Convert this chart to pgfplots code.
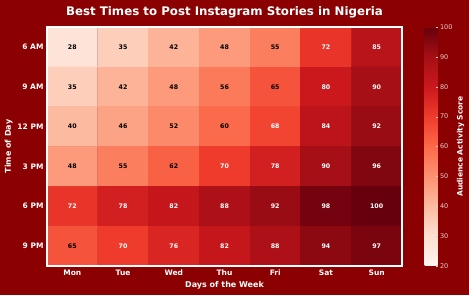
\documentclass[border=0pt]{standalone}
\usepackage{pgfplots}
\usepackage{pgfplotstable}
\pgfplotsset{compat=1.18}
\usepackage{fontspec}
\setmainfont{DejaVu Sans}
\definecolor{bg}{RGB}{139,0,0}
\definecolor{cbtick}{RGB}{235,205,205}

\pgfplotstableread{
x y z
0 0 28
1 0 35
2 0 42
3 0 48
4 0 55
5 0 72
6 0 85
0 1 35
1 1 42
2 1 48
3 1 56
4 1 65
5 1 80
6 1 90
0 2 40
1 2 46
2 2 52
3 2 60
4 2 68
5 2 84
6 2 92
0 3 48
1 3 55
2 3 62
3 3 70
4 3 78
5 3 90
6 3 96
0 4 72
1 4 78
2 4 82
3 4 88
4 4 92
5 4 98
6 4 100
0 5 65
1 5 70
2 5 76
3 5 82
4 5 88
5 5 94
6 5 97
}\cells

\begin{document}
\begin{tikzpicture}[x=1pt,y=1pt]
\fill[bg] (0,0) rectangle (469,295);
\node[text=white, font=\bfseries\fontsize{11.8}{14}\selectfont] at (224.5,283) {Best Times to Post Instagram Stories in Nigeria};
\begin{axis}[
  at={(47pt,29pt)}, anchor=south west, scale only axis,
  width=355pt, height=239pt,
  xmin=-0.5, xmax=6.5, ymin=-0.5, ymax=5.5, y dir=reverse,
  enlargelimits=false, axis on top,
  xtick={0,...,6}, xticklabels={Mon,Tue,Wed,Thu,Fri,Sat,Sun},
  ytick={0,...,5}, yticklabels={6 AM,9 AM,12 PM,3 PM,6 PM,9 PM},
  major tick length=0pt,
  ticklabel style={font=\bfseries\fontsize{7.5}{8}\selectfont, text=white},
  axis line style={draw=white, line width=1.2pt},
  xlabel={Days of the Week}, ylabel={Time of Day},
  label style={font=\bfseries\fontsize{8}{9}\selectfont, text=white},
  xlabel style={yshift=1pt},
  ylabel style={yshift=-2pt},
  colormap={reds}{rgb255=(255,245,240) rgb255=(254,224,210) rgb255=(252,187,161) rgb255=(252,146,114) rgb255=(251,106,74) rgb255=(239,59,44) rgb255=(203,24,29) rgb255=(165,15,21) rgb255=(103,0,13)},
  point meta min=20, point meta max=100,
  colorbar,
  colorbar style={
    at={(parent axis.north east)}, anchor=north west, xshift=14pt,
    width=13pt, scale only axis,
    ytick={20,30,...,100},
    ytick pos=right,
    yticklabel style={font=\fontsize{6.5}{7}\selectfont, text=cbtick, xshift=-1pt},
    /pgf/number format/assume math mode=true,
    axis line style={draw=none},
    major tick length=2pt, tick style={draw=cbtick},
    ylabel={Audience Activity Score},
    ylabel style={at={(axis description cs:1,0.5)}, anchor=center, yshift=-23pt, font=\bfseries\fontsize{7.5}{8}\selectfont, text=white},
  },
]
\addplot[matrix plot*, mesh/cols=7, mesh/ordering=x varies, point meta=explicit] table[x=x, y=y, meta=z] {\cells};
\addplot[only marks, mark=none, nodes near coords, point meta=explicit symbolic,
  every node near coord/.append style={anchor=center, text=black, font=\bfseries\fontsize{6.3}{7}\selectfont},
  restrict expr to domain={\thisrow{z}}{0:66}] table[x=x, y=y, meta=z] {\cells};
\addplot[only marks, mark=none, nodes near coords, point meta=explicit symbolic,
  every node near coord/.append style={anchor=center, text=white, font=\bfseries\fontsize{6.3}{7}\selectfont},
  restrict expr to domain={\thisrow{z}}{66:200}] table[x=x, y=y, meta=z] {\cells};
\end{axis}
\pgfresetboundingbox
\path (0,0) rectangle (469,295);
\end{tikzpicture}
\end{document}
